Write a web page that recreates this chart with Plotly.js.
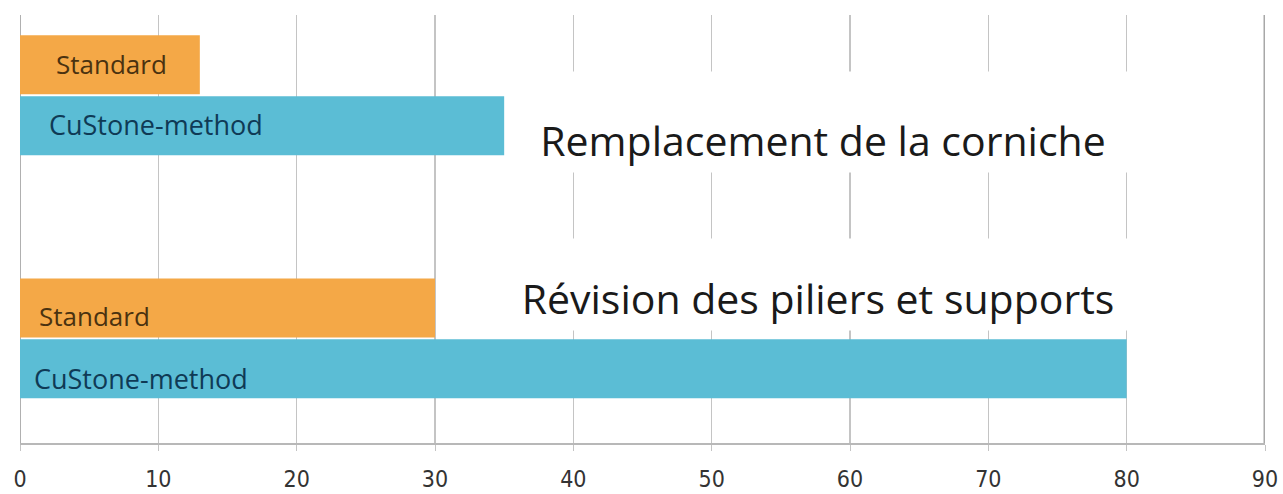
<!DOCTYPE html>
<html>
<head>
<meta charset="utf-8">
<script src="https://cdn.plot.ly/plotly-3.0.1.min.js"></script>
<style>html,body{margin:0;padding:0;background:#fff;}#chart{width:1283px;height:494px;}</style>
</head>
<body>
<div id="chart"></div>
<script>
const categories = ["Remplacement de la corniche", "Révision des piliers et supports"];
const seriesNames = ["Standard", "CuStone-method"];
const standardValues = [13, 30];
const custoneValues = [35, 80];
const tickValues = [0, 10, 20, 30, 40, 50, 60, 70, 80, 90];

const labelFont = "Open Sans, Noto Sans, sans-serif";

const traces = [
  {type: "bar", orientation: "h", name: seriesNames[0], y: categories, x: standardValues,
   marker: {color: "#F4A847"}, hoverinfo: "x"},
  {type: "bar", orientation: "h", name: seriesNames[1], y: categories, x: custoneValues,
   marker: {color: "#5BBDD5"}, hoverinfo: "x"}
];

const barLabelShifts = [[34, 27], [17, 12]];
const barLabelY = [[31, -29], [22, -40]];
const annotations = [];
categories.forEach((c, i) => {
  annotations.push({xref: "x", yref: "y", x: 0, y: c, text: seriesNames[0], showarrow: false,
    xanchor: "left", yanchor: "middle", xshift: barLabelShifts[i][0], yshift: barLabelY[i][0],
    font: {family: labelFont, size: 26, color: "#4a3210"}});
  annotations.push({xref: "x", yref: "y", x: 0, y: c, text: seriesNames[1], showarrow: false,
    xanchor: "left", yanchor: "middle", xshift: barLabelShifts[i][1], yshift: barLabelY[i][1],
    font: {family: labelFont, size: 27, color: "#0f3a55"}});
});
annotations.push({xref: "paper", yref: "y", x: 0.645, y: categories[0], text: categories[0], showarrow: false,
  xanchor: "center", yanchor: "middle", yshift: -27, bgcolor: "#ffffff", borderpad: 4,
  height: 92, valign: "bottom", width: 600,
  font: {family: labelFont, size: 41, color: "#1a1a1a"}});
annotations.push({xref: "paper", yref: "y", x: 0.641, y: categories[1], text: categories[1], showarrow: false,
  xanchor: "center", yanchor: "middle", yshift: 54, bgcolor: "#ffffff", borderpad: 4,
  height: 83, valign: "bottom", width: 620,
  font: {family: labelFont, size: 41, color: "#1a1a1a"}});

const layout = {
  width: 1283, height: 494,
  margin: {l: 20, r: 18, t: 15, b: 51},
  paper_bgcolor: "#ffffff", plot_bgcolor: "#ffffff",
  showlegend: false,
  barmode: "group",
  bargap: 0.5, bargroupgap: 0.03,
  xaxis: {range: [0, 90], tickvals: tickValues, ticktext: tickValues.map(String),
    showgrid: true, gridcolor: "#c4c4c4", gridwidth: 1.5, zeroline: true, zerolinecolor: "#b0b0b0",
    showline: true, linecolor: "#b8b8b8", linewidth: 2,
    ticks: "outside", ticklen: 6, tickcolor: "#c4c4c4",
    tickfont: {family: "Liberation Sans Narrow, DejaVu Sans Condensed, sans-serif", size: 23, color: "#333"},
    ticklabelstandoff: 8, fixedrange: true},
  yaxis: {type: "category", categoryorder: "array", categoryarray: categories,
    range: [1.43, -0.33], showticklabels: false, showgrid: false, zeroline: false,
    showline: false, ticks: "", fixedrange: true},
  shapes: [{type: "line", xref: "x", yref: "paper", x0: 90, x1: 90, y0: 0, y1: 1,
    line: {color: "#a8a8a8", width: 3}}],
  annotations: annotations
};

Plotly.newPlot("chart", traces, layout, {displayModeBar: false, staticPlot: true});
</script>
</body>
</html>
